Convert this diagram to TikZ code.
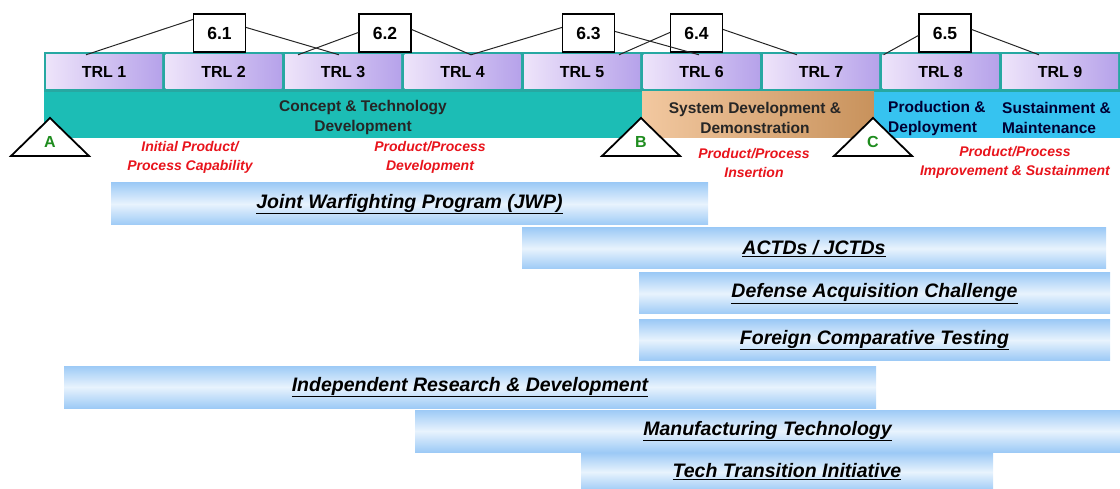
\documentclass[tikz,border=0pt]{standalone}
\usepackage{fontspec}
\setmainfont{Liberation Sans}
\usetikzlibrary{calc}
\definecolor{teal1}{HTML}{1CBDB5}
\definecolor{tealedge}{HTML}{27A8A2}
\definecolor{bluebd}{HTML}{36C3F0}
\definecolor{orgL}{HTML}{F2C8A0}
\definecolor{orgR}{HTML}{C8925C}
\definecolor{trlL}{HTML}{EEE4FA}
\definecolor{trlR}{HTML}{B6A2EA}
\definecolor{barE}{HTML}{9DCAF6}
\definecolor{barM}{HTML}{E8F3FD}
\definecolor{redtxt}{HTML}{E8141C}
\definecolor{grn}{HTML}{1E8C1E}
\tikzset{
  trlbox/.style={left color=trlL, right color=trlR, draw=none, minimum width=116pt, minimum height=34pt, inner sep=0pt, font=\fontsize{16}{18}\selectfont\bfseries},
  numbox/.style={fill=white, draw=black, line width=1.1pt, minimum width=52pt, minimum height=38pt, inner sep=0pt, font=\fontsize{17.5}{18}\selectfont\bfseries},
  bandtxt/.style={font=\fontsize{15.5}{20}\selectfont\bfseries, text=black!85, align=center, inner sep=0pt},
  redlbl/.style={font=\fontsize{14}{19}\selectfont\bfseries\itshape, text=redtxt, align=center, inner sep=0pt},
  bar/.style={top color=barE, bottom color=barE, middle color=barM, draw=none, inner sep=0pt, font=\fontsize{19.5}{22}\selectfont\bfseries\itshape},
  link/.style={draw=black!85, line width=1pt},
  tri/.style={fill=white, draw=black, line width=1.8pt, line join=miter},
  trilbl/.style={font=\fontsize{16}{18}\selectfont\bfseries, text=grn, inner sep=0pt}
}
\begin{document}
\begin{tikzpicture}[x=1pt,y=-1pt]
\useasboundingbox (0,0) rectangle (1120,489);
% TRL row background
\fill[tealedge] (44,52) rectangle (1120,92);
% phase bands
\fill[teal1] (44,92) rectangle (642,138);
\shade[left color=orgL, right color=orgR] (642,92) rectangle (874,138);
\fill[bluebd] (874,92) rectangle (1120,138);
% TRL boxes
\foreach \i in {1,...,9}{
  \node[trlbox] (trl\i) at ({104+(\i-1)*119.5},72) {TRL \i};
}
% number boxes
\node[numbox] (n61) at (219.5,33) {6.1};
\node[numbox] (n62) at (385,33) {6.2};
\node[numbox] (n63) at (588.5,33) {6.3};
\node[numbox] (n64) at (696.5,33) {6.4};
\node[numbox] (n65) at (945,33) {6.5};
% links
\draw[link] ([yshift=-6pt]n61.north west) -- ([xshift=-18pt]trl1.north);
\draw[link] ([yshift=-14pt]n61.north east) -- ([xshift=-4pt]trl3.north);
\draw[link] ([yshift=-19pt]n62.north west) -- ([xshift=-45pt]trl3.north);
\draw[link] ([yshift=-16pt]n62.north east) -- ([xshift=8.5pt]trl4.north);
\draw[link] ([yshift=-14pt]n63.north west) -- ([xshift=8.5pt]trl4.north);
\draw[link] ([yshift=-18pt]n63.north east) -- ([xshift=-2.5pt]trl6.north);
\draw[link] ([yshift=-19pt]n64.north west) -- ([xshift=37pt]trl5.north);
\draw[link] ([yshift=-16pt]n64.north east) -- ([xshift=-24pt]trl7.north);
\draw[link] ([yshift=-22pt]n65.north west) -- ([xshift=-57pt]trl8.north);
\draw[link] ([yshift=-16pt]n65.north east) -- ([xshift=-21pt]trl9.north);
% band texts
\node[bandtxt] (cpt) at (363,117) {Concept \& Technology\\Development};
\node[bandtxt] (sdd) at (755,118) {System Development \&\\Demonstration};
\node[bandtxt, align=left, anchor=west, text=black!80!blue] (pd) at (888,118) {Production \&\\Deployment};
\node[bandtxt, align=left, anchor=west, text=black!80!blue] (sm) at (1002,118) {Sustainment \&\\Maintenance};
% triangles
\draw[tri] (11,156) -- (50,118) -- (89,156) -- cycle;
\node[trilbl] (ta) at (50,142) {A};
\draw[tri] (602,156) -- (641,118) -- (680,156) -- cycle;
\node[trilbl] (tb) at (641,142) {B};
\draw[tri] (834,156) -- (873,118) -- (912,156) -- cycle;
\node[trilbl] (tc) at (873,142) {C};
% red labels
\node[redlbl] (r1) at (190,157) {Initial Product/\\Process Capability};
\node[redlbl] (r2) at (430,157) {Product/Process\\Development};
\node[redlbl] (r3) at (754,163) {Product/Process\\Insertion};
\node[redlbl] (r4) at (1015,162) {Product/Process\\Improvement \& Sustainment};
% bars
\node[bar, minimum width=597pt, minimum height=42pt] (jwp) at (409.5,204) {\underline{Joint Warfighting Program (JWP)}};
\node[bar, minimum width=584pt, minimum height=41pt] (actd) at (814,248.5) {\underline{ACTDs / JCTDs}};
\node[bar, minimum width=471pt, minimum height=41pt] (dac) at (874.5,293.5) {\underline{Defense Acquisition Challenge}};
\node[bar, minimum width=471pt, minimum height=40pt] (fct) at (874.5,340) {\underline{Foreign Comparative Testing}};
\node[bar, minimum width=812pt, minimum height=42pt] (ird) at (470,387) {\underline{Independent Research \& Development}};
\node[bar, minimum width=705pt, minimum height=42pt] (mt) at (767.5,431) {\underline{Manufacturing Technology}};
\node[bar, minimum width=412pt, minimum height=38pt] (tti) at (787,472) {\underline{Tech Transition Initiative}};
\end{tikzpicture}
\end{document}
